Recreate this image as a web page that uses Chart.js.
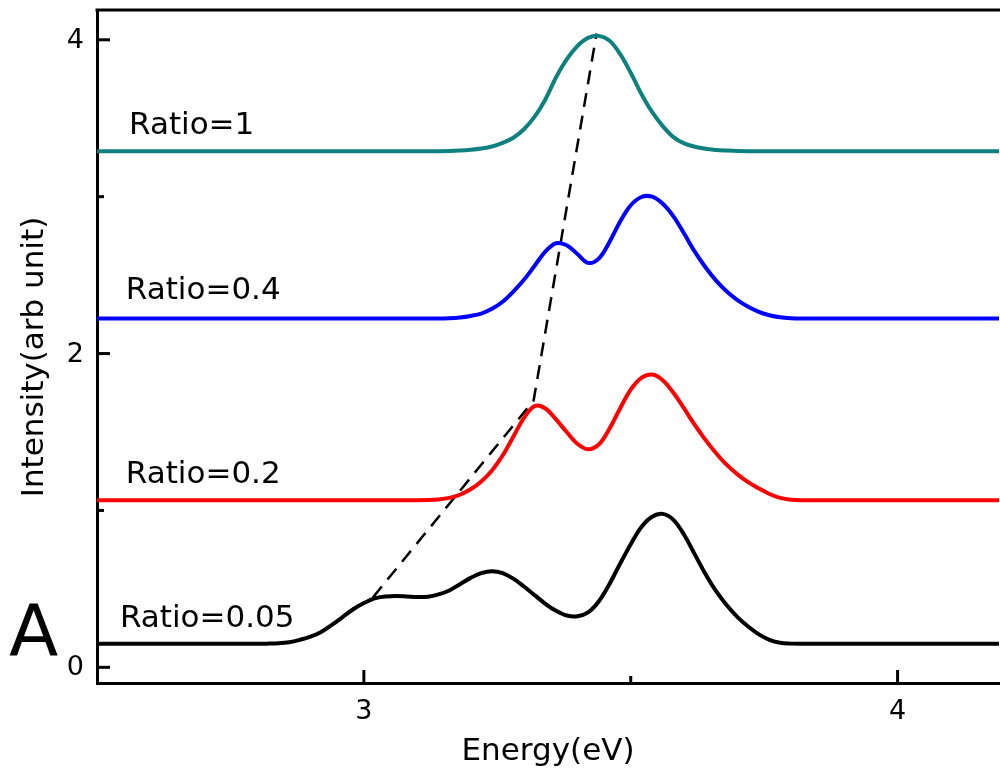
<!DOCTYPE html>
<html><head><meta charset="utf-8">
<script src="https://cdn.jsdelivr.net/npm/chart.js@4"></script>
<style>html,body{margin:0;padding:0;background:#fff;}#wrap{width:1000px;height:776px;}</style>
</head><body><div id="wrap"><canvas id="c" width="1000" height="776"></canvas></div>
<script>
// ---- data (energy in eV, intensity in arb. units) ----
const energy005 = [2.50, 2.80, 2.82, 2.84, 2.86, 2.88, 2.90, 2.92, 2.94, 2.96, 2.98, 3.00, 3.02, 3.04, 3.06, 3.08, 3.10, 3.12, 3.14, 3.16, 3.18, 3.20, 3.22, 3.24, 3.26, 3.28, 3.30, 3.32, 3.34, 3.36, 3.38, 3.40, 3.42, 3.44, 3.46, 3.48, 3.50, 3.52, 3.54, 3.56, 3.58, 3.60, 3.62, 3.64, 3.66, 3.68, 3.70, 3.72, 3.74, 3.76, 3.78, 3.80, 3.82, 4.19];
const intensity005 = [0.15, 0.15, 0.151, 0.153, 0.16, 0.175, 0.195, 0.225, 0.27, 0.32, 0.37, 0.41, 0.44, 0.452, 0.455, 0.452, 0.448, 0.45, 0.465, 0.49, 0.53, 0.57, 0.60, 0.612, 0.60, 0.565, 0.515, 0.46, 0.405, 0.36, 0.33, 0.325, 0.35, 0.42, 0.53, 0.66, 0.785, 0.895, 0.96, 0.978, 0.94, 0.845, 0.72, 0.595, 0.485, 0.395, 0.32, 0.26, 0.21, 0.175, 0.156, 0.151, 0.15, 0.15];

const energy02 = [2.50, 3.10, 3.12, 3.14, 3.16, 3.18, 3.20, 3.22, 3.24, 3.26, 3.28, 3.30, 3.32, 3.34, 3.36, 3.38, 3.40, 3.42, 3.44, 3.46, 3.48, 3.50, 3.52, 3.54, 3.56, 3.58, 3.60, 3.62, 3.64, 3.66, 3.68, 3.70, 3.72, 3.74, 3.76, 3.78, 3.80, 3.82, 4.19];
const intensity02 = [1.065, 1.065, 1.066, 1.07, 1.08, 1.10, 1.135, 1.185, 1.255, 1.35, 1.47, 1.59, 1.665, 1.65, 1.58, 1.50, 1.425, 1.39, 1.42, 1.52, 1.65, 1.77, 1.845, 1.866, 1.83, 1.75, 1.65, 1.545, 1.45, 1.365, 1.29, 1.23, 1.18, 1.14, 1.105, 1.08, 1.068, 1.065, 1.065];

const energy04 = [2.50, 3.14, 3.16, 3.18, 3.20, 3.22, 3.24, 3.26, 3.28, 3.30, 3.32, 3.34, 3.36, 3.38, 3.40, 3.42, 3.44, 3.46, 3.48, 3.50, 3.52, 3.54, 3.56, 3.58, 3.60, 3.62, 3.64, 3.66, 3.68, 3.70, 3.72, 3.74, 3.76, 3.78, 3.80, 3.82, 4.19];
const intensity04 = [2.223, 2.223, 2.225, 2.23, 2.24, 2.255, 2.285, 2.33, 2.395, 2.47, 2.56, 2.65, 2.703, 2.69, 2.635, 2.578, 2.605, 2.71, 2.84, 2.945, 2.998, 3.0, 2.955, 2.875, 2.765, 2.65, 2.55, 2.465, 2.395, 2.34, 2.298, 2.266, 2.244, 2.231, 2.225, 2.223, 2.223];

const energy1 = [2.50, 3.14, 3.16, 3.18, 3.20, 3.22, 3.24, 3.26, 3.28, 3.30, 3.32, 3.34, 3.36, 3.38, 3.40, 3.42, 3.44, 3.46, 3.48, 3.50, 3.52, 3.54, 3.56, 3.58, 3.60, 3.62, 3.64, 3.66, 3.68, 3.70, 3.72, 4.19];
const intensity1 = [3.29, 3.29, 3.291, 3.294, 3.299, 3.307, 3.32, 3.343, 3.376, 3.43, 3.51, 3.62, 3.76, 3.875, 3.96, 4.012, 4.025, 3.995, 3.91, 3.79, 3.655, 3.54, 3.45, 3.38, 3.34, 3.318, 3.305, 3.298, 3.294, 3.291, 3.29, 3.29];

const guideEnergy = [3.017, 3.318, 3.436];
const guideIntensity = [0.446, 1.70, 4.04];

const seriesNames = ['Ratio=0.05', 'Ratio=0.2', 'Ratio=0.4', 'Ratio=1'];
const xMajorTicks = [3, 4];
const xMinorTicks = [3.5];
const yMajorTicks = [0, 2, 4];
const yMinorTicks = [1, 3];
// label anchors (data coordinates: energy, intensity)
const labelEnergy = [2.543, 2.554, 2.554, 2.560];
const labelIntensity = [0.255, 1.172, 2.35, 3.40];

const colors = ['#000000', '#ff0000', '#0000ff', '#0f8080'];
const FONT = '"DejaVu Sans", "Liberation Sans", Arial, sans-serif';

function pts(xs, ys) { return xs.map((x, i) => ({x: x, y: ys[i]})); }

const curves = [
  pts(energy005, intensity005),
  pts(energy02, intensity02),
  pts(energy04, intensity04),
  pts(energy1, intensity1)
];

const datasets = curves.map((d, i) => ({
  label: seriesNames[i],
  data: d,
  borderColor: colors[i],
  borderWidth: 4,
  pointRadius: 0,
  fill: false,
  tension: 0.35,
  borderJoinStyle: 'round',
  borderCapStyle: 'round'
}));
datasets.push({
  label: 'guide',
  data: pts(guideEnergy, guideIntensity),
  borderColor: '#000000',
  borderWidth: 2.5,
  borderDash: [14, 9],
  pointRadius: 0,
  fill: false,
  tension: 0
});

const decor = {
  id: 'decor',
  afterDraw(chart) {
    const ctx = chart.ctx;
    const xs = chart.scales.x, ys = chart.scales.y;
    const a = chart.chartArea;
    ctx.save();
    ctx.strokeStyle = '#000';
    ctx.fillStyle = '#000';
    ctx.lineCap = 'butt';
    // top frame
    ctx.lineWidth = 3;
    ctx.beginPath();
    ctx.moveTo(a.left - 1.5, a.top);
    ctx.lineTo(a.right + 5, a.top);
    ctx.stroke();
    // inward ticks
    ctx.lineWidth = 3;
    yMajorTicks.forEach(v => { const p = ys.getPixelForValue(v); ctx.beginPath(); ctx.moveTo(a.left, p); ctx.lineTo(a.left + 13, p); ctx.stroke(); });
    yMinorTicks.forEach(v => { const p = ys.getPixelForValue(v); ctx.beginPath(); ctx.moveTo(a.left, p); ctx.lineTo(a.left + 7, p); ctx.stroke(); });
    xMajorTicks.forEach(v => { const p = xs.getPixelForValue(v); ctx.beginPath(); ctx.moveTo(p, a.bottom); ctx.lineTo(p, a.bottom - 13); ctx.stroke(); });
    xMinorTicks.forEach(v => { const p = xs.getPixelForValue(v); ctx.beginPath(); ctx.moveTo(p, a.bottom); ctx.lineTo(p, a.bottom - 7); ctx.stroke(); });
    // tick labels
    ctx.font = '27px ' + FONT;
    ctx.textAlign = 'right'; ctx.textBaseline = 'middle';
    yMajorTicks.forEach(v => ctx.fillText(String(v), a.left - 13, ys.getPixelForValue(v) + 1));
    ctx.textAlign = 'center'; ctx.textBaseline = 'top';
    xMajorTicks.forEach(v => ctx.fillText(String(v), xs.getPixelForValue(v), a.bottom + 15));
    // axis titles
    ctx.font = '31px ' + FONT;
    ctx.textAlign = 'center'; ctx.textBaseline = 'alphabetic';
    ctx.fillText('Energy(eV)', (a.left + a.right) / 2, 760);
    ctx.save();
    ctx.translate(35, 357);
    ctx.rotate(-Math.PI / 2);
    ctx.textBaseline = 'middle';
    ctx.fillText('Intensity(arb unit)', 0, 0);
    ctx.restore();
    // series labels
    ctx.font = '31px ' + FONT;
    ctx.textAlign = 'left'; ctx.textBaseline = 'alphabetic';
    seriesNames.forEach((t, i) => ctx.fillText(t, xs.getPixelForValue(labelEnergy[i]), ys.getPixelForValue(labelIntensity[i])));
    // panel letter
    ctx.font = '72px ' + FONT;
    ctx.fillText('A', 9, 655);
    ctx.restore();
  }
};

new Chart(document.getElementById('c'), {
  type: 'line',
  data: { datasets: datasets },
  options: {
    responsive: false,
    devicePixelRatio: 1,
    animation: false,
    layout: { padding: { top: 10, right: 1, left: 0, bottom: 0 } },
    plugins: { legend: { display: false }, tooltip: { enabled: false }, title: { display: false } },
    scales: {
      x: {
        type: 'linear', min: 2.5, max: 4.19,
        grid: { display: false },
        border: { display: true, width: 3, color: '#000' },
        ticks: { display: false },
        afterFit(s) { s.height = 93; }
      },
      y: {
        type: 'linear', min: -0.1, max: 4.19,
        grid: { display: false },
        border: { display: true, width: 3, color: '#000' },
        ticks: { display: false },
        afterFit(s) { s.width = 97; }
      }
    }
  },
  plugins: [decor]
});
</script>
</body></html>
